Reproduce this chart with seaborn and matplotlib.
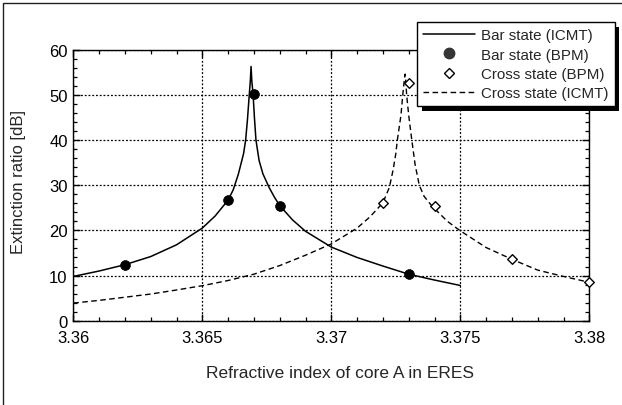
import numpy as np
import pandas as pd
import seaborn as sns
import matplotlib
matplotlib.use("Agg")
import matplotlib.pyplot as plt
from matplotlib.patches import Rectangle
from matplotlib.lines import Line2D
from matplotlib.transforms import IdentityTransform
from matplotlib.ticker import MultipleLocator, FuncFormatter

# ---- data ----
bar_icmt_x = [3.360, 3.361, 3.362, 3.363, 3.364, 3.365, 3.3655, 3.366, 3.3662,
              3.3664, 3.3666, 3.36668, 3.36675, 3.36682, 3.36686, 3.36689,
              3.36692, 3.36697, 3.36702, 3.36708, 3.3672, 3.36735, 3.36759,
              3.3678, 3.368, 3.3685, 3.369, 3.370, 3.371, 3.372, 3.373,
              3.374, 3.375]
bar_icmt_y = [9.8, 11.0, 12.4, 14.2, 16.8, 20.5, 23.2, 26.7, 29.0,
              32.5, 37.0, 40.0, 44.5, 50.0, 53.0, 56.3,
              53.0, 50.0, 45.0, 40.0, 35.5, 32.5, 29.5,
              27.3, 25.5, 22.3, 19.8, 16.3, 14.0, 12.1, 10.3,
              9.0, 7.8]

cross_icmt_x = [3.360, 3.361, 3.362, 3.363, 3.364, 3.365, 3.366, 3.367, 3.368,
                3.369, 3.370, 3.371, 3.3715, 3.372, 3.37225, 3.3724, 3.3725,
                3.37256, 3.3727, 3.37277, 3.37282, 3.37286, 3.37289, 3.37292,
                3.373, 3.37312, 3.37325, 3.37341, 3.3736, 3.3739, 3.3745,
                3.375, 3.376, 3.377, 3.378, 3.379, 3.380]
cross_icmt_y = [3.9, 4.5, 5.2, 5.9, 6.8, 7.75, 8.9, 10.3, 12.2,
                14.5, 17.0, 20.5, 23.0, 26.1, 29.5, 33.5, 37.0,
                40.0, 45.5, 50.0, 52.8, 54.6, 52.8, 50.0,
                45.5, 40.0, 34.5, 30.0, 27.5, 25.4, 22.0,
                19.9, 16.2, 13.6, 11.2, 9.8, 8.5]

bar_bpm_x = [3.362, 3.366, 3.367, 3.368, 3.373]
bar_bpm_y = [12.4, 26.7, 50.2, 25.5, 10.3]

cross_bpm_x = [3.372, 3.373, 3.374, 3.377, 3.380]
cross_bpm_y = [26.1, 52.6, 25.4, 13.6, 8.5]

x_ticks = [3.36, 3.365, 3.37, 3.375, 3.38]
y_ticks = [0, 10, 20, 30, 40, 50, 60]

xlabel = "Refractive index of core A in ERES"
ylabel = "Extinction ratio [dB]"
legend_labels = ["Bar state (ICMT)", "Bar state (BPM)",
                 "Cross state (BPM)", "Cross state (ICMT)"]

# ---- style ----
sns.set_style("ticks")
plt.rcParams["font.family"] = ["Liberation Sans", "DejaVu Sans"]
plt.rcParams["font.size"] = 10

W, H = 622, 406
fig = plt.figure(figsize=(W / 100, H / 100), dpi=100)
fig.patch.set_facecolor("white")

ax_l, ax_r, ax_t, ax_b = 73.3, 589.3, 50.7, 321.7
ax = fig.add_axes([ax_l / W, 1 - ax_b / H, (ax_r - ax_l) / W, (ax_b - ax_t) / H])

df_bar = pd.DataFrame({"x": bar_icmt_x, "y": bar_icmt_y})
df_cross = pd.DataFrame({"x": cross_icmt_x, "y": cross_icmt_y})
df_bbpm = pd.DataFrame({"x": bar_bpm_x, "y": bar_bpm_y})
df_cbpm = pd.DataFrame({"x": cross_bpm_x, "y": cross_bpm_y})

dash = (0, (4, 2.5))
sns.lineplot(data=df_bar, x="x", y="y", ax=ax, color="black", lw=1.1,
             estimator=None, sort=False, zorder=3)
sns.lineplot(data=df_cross, x="x", y="y", ax=ax, color="black", lw=1.0,
             estimator=None, sort=False, zorder=3, linestyle=dash)
sns.scatterplot(data=df_bbpm, x="x", y="y", ax=ax, marker="o", s=50,
                color="black", edgecolor="black", linewidth=0.5, zorder=4,
                clip_on=False)
sns.scatterplot(data=df_cbpm, x="x", y="y", ax=ax, marker="D", s=24,
                facecolor="white", edgecolor="black", linewidth=1.0, zorder=4,
                clip_on=False)

ax.set_xlim(3.36, 3.38)
ax.set_ylim(0, 60)
ax.set_xticks(x_ticks)
ax.set_yticks(y_ticks)
ax.xaxis.set_minor_locator(MultipleLocator(0.001))
ax.yaxis.set_minor_locator(MultipleLocator(2))
ax.xaxis.set_major_formatter(FuncFormatter(lambda v, p: f"{v:g}"))
ax.yaxis.set_major_formatter(FuncFormatter(lambda v, p: f"{v:g}"))
ax.tick_params(which="both", direction="in", top=True, right=True,
               colors="black", labelsize=12)
ax.tick_params(which="major", length=5, width=1.0)
ax.tick_params(which="minor", length=3, width=0.9)
ax.tick_params(axis="x", which="major", pad=7)
ax.tick_params(axis="y", which="major", pad=4)
for s in ax.spines.values():
    s.set_linewidth(1.0)
    s.set_color("black")
ax.grid(which="major", color="black", lw=0.9, linestyle=(0, (1.5, 1.5)))
ax.set_xlabel("")
ax.set_ylabel("")

fig.text(340 / W, 1 - 374 / H, xlabel, ha="center", va="center", fontsize=12.5)
fig.text(19 / W, 1 - 182 / H, ylabel, ha="center", va="center",
         rotation=90, fontsize=12)

handles = [
    Line2D([], [], color="black", lw=1.1),
    Line2D([], [], color="#353535", marker="o", linestyle="none", markersize=7.5),
    Line2D([], [], color="black", marker="D", markerfacecolor="white",
           linestyle="none", markersize=5, markeredgewidth=1.0),
    Line2D([], [], color="black", lw=1.0, linestyle=dash),
]
leg = ax.legend(handles, legend_labels, loc="upper left",
                bbox_to_anchor=(417 / W, 1 - 23 / H),
                bbox_transform=fig.transFigure, borderaxespad=0,
                frameon=True, fancybox=False, shadow=False, framealpha=1.0,
                facecolor="white", edgecolor="black",
                fontsize=10.9, handlelength=3.4, handletextpad=0.45,
                labelspacing=0.36, borderpad=0.4)
leg.get_frame().set_linewidth(1.0)
leg.set_zorder(10)

# figure border
fig.patches.append(Rectangle((3 / W, -0.2), 1.2, 1 - 4 / H + 0.2,
                             transform=fig.transFigure, fill=False,
                             edgecolor="#202020", lw=1.0, zorder=0))

fig.canvas.draw()
bb = leg.get_window_extent()
off = 4.5
shadow = Rectangle((bb.x0 + off, bb.y0 - off), bb.width, bb.height,
                   transform=IdentityTransform(), facecolor="black",
                   edgecolor="none", zorder=9.5, clip_on=False)
ax.add_artist(shadow)

fig.savefig("out.png", dpi=100)
